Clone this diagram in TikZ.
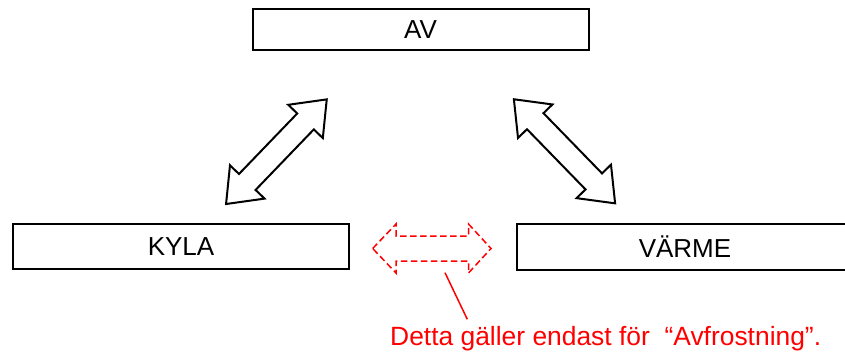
\documentclass[tikz,border=0pt]{standalone}
\usepackage{fontspec}
\setmainfont{Liberation Sans}
\begin{document}
\begin{tikzpicture}[x=1pt,y=-1pt,
  box/.style={draw=black, line width=2pt, fill=white, minimum width=336pt, inner sep=0pt, font=\fontsize{26}{30}\selectfont},
  blockarrow/.style={draw=black, line width=2pt, fill=white, line join=miter},
  dasharrow/.style={draw=red, line width=1.5pt, dash pattern=on 6.5pt off 3.5pt},
  note/.style={text=red, inner sep=0pt, font=\fontsize{26.4}{30}\selectfont}]
\useasboundingbox (0,0) rectangle (845,354);
\clip (0,0) rectangle (845,354);
% boxes
\node[box, minimum height=41pt] (av) at (420.5,29.5) {AV};
\node[box, minimum height=45pt] (kyla) at (181,246.5) {KYLA};
\node[box, minimum height=46pt] (varme) at (685,247) {VÄRME};
% left block double arrow
\begin{scope}[shift={(276.4,151.7)}, rotate=46.1]
  \draw[blockarrow] (-72.6,0) -- (-42,24) -- (-42,11.5) -- (42,11.5) -- (42,24) -- (72.6,0)
    -- (42,-24) -- (42,-11.5) -- (-42,-11.5) -- (-42,-24) -- cycle;
  \coordinate (la) at (0,0);
\end{scope}
% right block double arrow
\begin{scope}[shift={(564.5,151.3)}, rotate=-45.8]
  \draw[blockarrow] (-72.6,0) -- (-42,24) -- (-42,11.5) -- (42,11.5) -- (42,24) -- (72.6,0)
    -- (42,-24) -- (42,-11.5) -- (-42,-11.5) -- (-42,-24) -- cycle;
  \coordinate (ra) at (0,0);
\end{scope}
% dashed double arrow
\draw[dasharrow] (372.7,248.5) -- (396,224) -- (396,236) -- (468.5,236) -- (468.5,224) -- (491,248.5)
  -- (468.5,273) -- (468.5,261) -- (396,261) -- (396,273) -- cycle;
\coordinate (ptrstart) at (445,272.7);
\coordinate (ptrend) at (467.3,319.3);
\node[note, anchor=base west] (txt) at (390,345) {Detta gäller endast för\ \ “Avfrostning”.};
\draw[red, line width=1.5pt] (ptrstart) -- (ptrend);
\end{tikzpicture}
\end{document}
